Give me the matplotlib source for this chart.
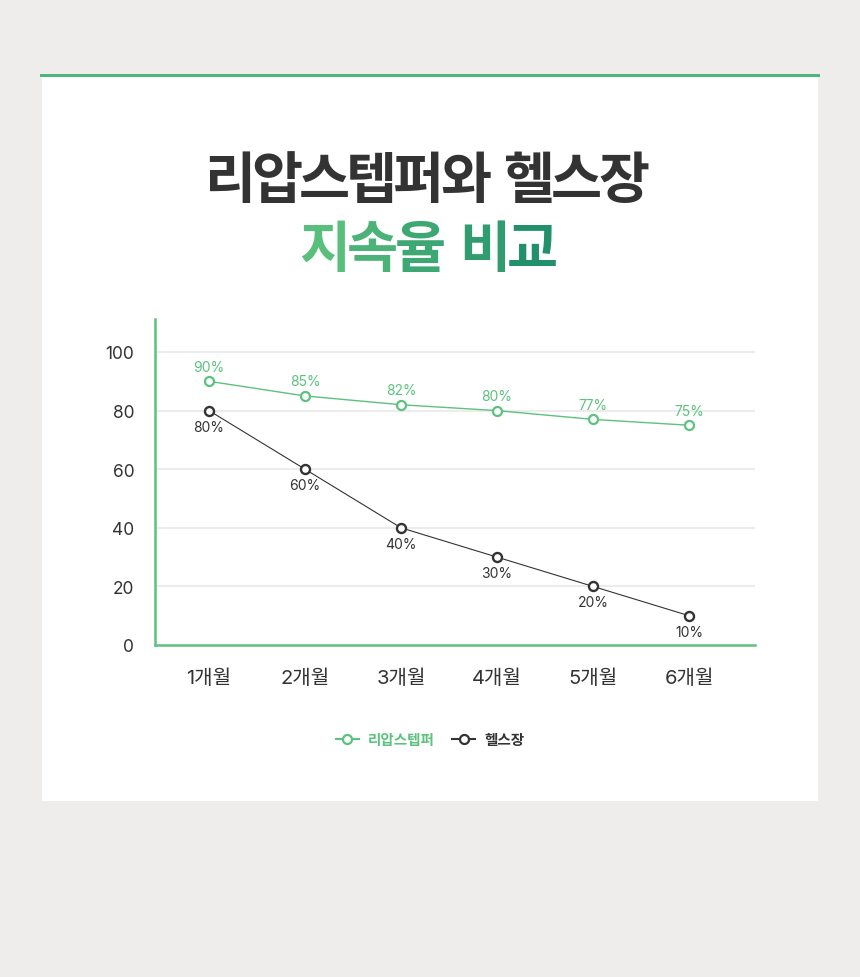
import matplotlib
matplotlib.use('Agg')
import matplotlib.pyplot as plt
from matplotlib.patches import Rectangle
from matplotlib.lines import Line2D
from matplotlib.font_manager import FontProperties
import numpy as np

# ---- data ----
months = ['1개월', '2개월', '3개월', '4개월', '5개월', '6개월']
riap_values = [90, 85, 82, 80, 77, 75]
gym_values = [80, 60, 40, 30, 20, 10]
y_ticks = [0, 20, 40, 60, 80, 100]
series_names = ['리압스텝퍼', '헬스장']
title_line1 = '리압스텝퍼와 헬스장'
title_line2 = '지속율 비교'

FAM = ['Noto Sans CJK KR', 'DejaVu Sans']
NUMFAM = ['Inter', 'Noto Sans CJK KR', 'DejaVu Sans']
plt.rcParams['font.family'] = FAM

GREEN = '#5cc27e'
DARK = '#333333'
BG = '#eeedeb'

W, H = 860, 978
fig = plt.figure(figsize=(W / 100, H / 100), dpi=100)
fig.patch.set_facecolor(BG)

def fx(px):
    return px / W

def fy(py):
    return 1 - py / H

# white card and top accent bar
fig.patches.append(Rectangle((fx(42), fy(802)), fx(818) - fx(42), fy(78) - fy(802),
                             transform=fig.transFigure, facecolor='white', edgecolor='none', zorder=-3))
fig.patches.append(Rectangle((fx(40), fy(78)), fx(820) - fx(40), fy(75) - fy(78),
                             transform=fig.transFigure, facecolor='#4db67a', edgecolor='none', zorder=-2))

# titles, character by character (tight tracking)
def draw_spaced(text, x_start, y, step, space_extra, colors, size):
    x = x_start
    ci = 0
    for ch in text:
        if ch == ' ':
            x += space_extra
            continue
        fig.text(fx(x), fy(y), ch, ha='center', va='center', fontsize=size,
                 fontweight='bold', color=colors[ci], family=FAM)
        ci += 1
        x += step

n1 = len(title_line1.replace(' ', ''))
draw_spaced(title_line1, 230, 182, 47.2, 16, [DARK] * n1, 40)

c0 = np.array([0x58, 0xbf, 0x7c]) / 255
c1 = np.array([0x22, 0x90, 0x6a]) / 255
n2 = len(title_line2.replace(' ', ''))
grad = [tuple(c0 + (c1 - c0) * i / (n2 - 1)) for i in range(n2)]
draw_spaced(title_line2, 325, 251, 47.5, 17, grad, 40)

# ---- chart ----
ax_left, ax_right, ax_top, ax_bottom = 155, 755, 320, 646
ax = fig.add_axes([fx(ax_left), fy(ax_bottom), fx(ax_right) - fx(ax_left), fy(ax_top) - fy(ax_bottom)])
ax.set_facecolor('none')

x = np.arange(len(months))
ppu = 2.93
ax.set_ylim(0, (ax_bottom - ax_top) / ppu)
ax.set_xlim(-(209 - ax_left) / 96, len(months) - 1 + (ax_right - 689) / 96)

for v in y_ticks[1:]:
    ax.axhline(v, color='#ececec', lw=1.5, zorder=1)

ax.plot(x, riap_values, color=GREEN, lw=1.0, marker='o', markersize=6.5,
        markerfacecolor='white', markeredgecolor=GREEN, markeredgewidth=1.6, zorder=3)
ax.plot(x, gym_values, color=DARK, lw=0.8, marker='o', markersize=6.5,
        markerfacecolor='white', markeredgecolor=DARK, markeredgewidth=1.7, zorder=3)

for xi, v in zip(x, riap_values):
    ax.annotate(f'{v}%', (xi, v), xytext=(0, 10.5), textcoords='offset points',
                ha='center', va='center', fontsize=10, color=GREEN, family=NUMFAM)
for xi, v in zip(x, gym_values):
    ax.annotate(f'{v}%', (xi, v), xytext=(0, -11.5), textcoords='offset points',
                ha='center', va='center', fontsize=10, color=DARK, family=NUMFAM)

ax.set_xticks(x)
ax.set_xticklabels(months, fontsize=14.5, color=DARK, family=NUMFAM)
ax.set_yticks(y_ticks)
ax.set_yticklabels([str(t) for t in y_ticks], fontsize=12.5, color=DARK, family=NUMFAM)
ax.tick_params(axis='both', length=0)
ax.tick_params(axis='y', pad=15)
ax.tick_params(axis='x', pad=17)

for s in ['top', 'right']:
    ax.spines[s].set_visible(False)
for s in ['left', 'bottom']:
    ax.spines[s].set_color(GREEN)
    ax.spines[s].set_linewidth(1.8)

# legend
handles = [
    Line2D([], [], color=GREEN, lw=1.5, marker='o', markersize=6.5, markerfacecolor='white',
           markeredgecolor=GREEN, markeredgewidth=1.6),
    Line2D([], [], color=DARK, lw=1.5, marker='o', markersize=6.5, markerfacecolor='white',
           markeredgecolor=DARK, markeredgewidth=1.6),
]
leg = ax.legend(handles, series_names, loc='center', bbox_to_anchor=(fx(430), fy(740)),
                bbox_transform=fig.transFigure, ncol=2, frameon=False, handlelength=1.6,
                handletextpad=0.6, columnspacing=1.2,
                prop=FontProperties(family=FAM, weight='bold', size=10.5))
for t, c in zip(leg.get_texts(), [GREEN, DARK]):
    t.set_color(c)

fig.savefig('out.png', dpi=100, facecolor=fig.get_facecolor())
